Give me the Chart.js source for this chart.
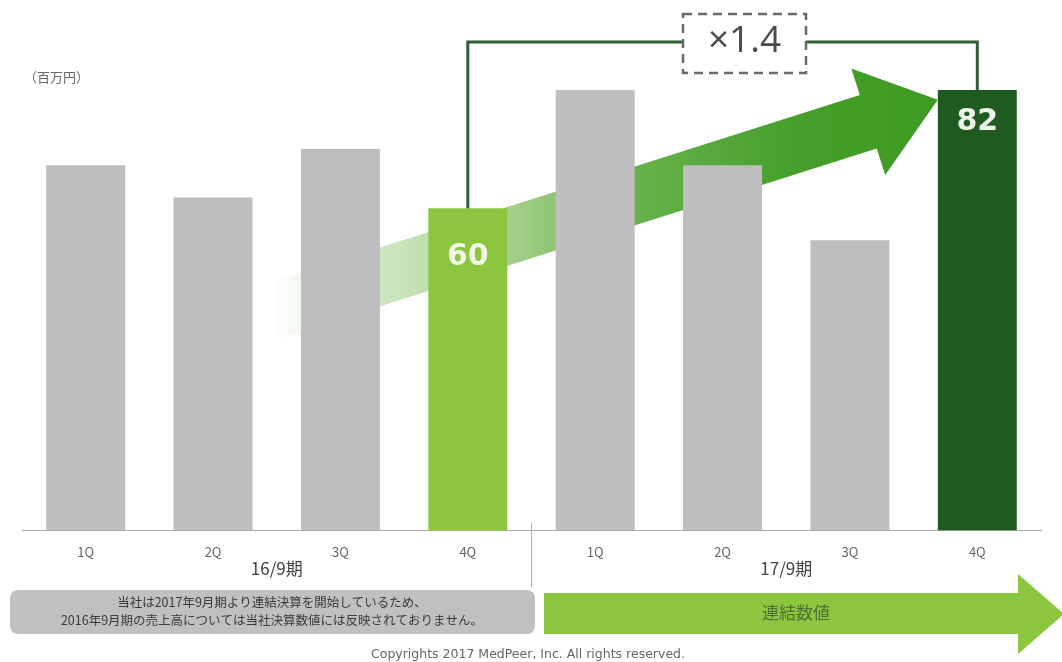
<!DOCTYPE html>
<html>
<head>
<meta charset="utf-8">
<script src="https://cdn.jsdelivr.net/npm/chart.js@4.4.1/dist/chart.umd.min.js"></script>
<style>
  html, body { margin: 0; padding: 0; background: #fff; }
  #wrap { position: relative; width: 1062px; height: 662px; }
</style>
</head>
<body>
<div id="wrap"><canvas id="sales"></canvas></div>
<script>
// quarterly sales (百万円), 16/9期 then 17/9期
const quarters = ["1Q", "2Q", "3Q", "4Q", "1Q", "2Q", "3Q", "4Q"];
const periods = ["16/9期", "17/9期"];
const sales = [68, 62, 71, 60, 82, 68, 54, 82];
const unitLabel = "（百万円）";
const growthLabel = "×1.4";
const noteLines = [
    "当社は2017年9月期より連結決算を開始しているため、",
    "2016年9月期の売上高については当社決算数値には反映されておりません。"
];
const consolidatedLabel = "連結数値";
const copyright = "Copyrights 2017 MedPeer, Inc. All rights reserved.";

const GRAY = "#c0bdc0";
const LIGHT = "#8cc63f";
const DARK = "#1f5b20";
const JP = "'Noto Sans CJK JP', 'Noto Sans', sans-serif";

function barColor(i) {
    if (i === 3) return LIGHT;
    if (i === 7) return DARK;
    return GRAY;
}

// big growth arrow, behind the bars
const growthArrow = {
    id: "growthArrow",
    beforeDatasetsDraw(chart) {
        const ctx = chart.ctx;
        const x = chart.scales.x, y = chart.scales.y;
        const tx = x.getPixelForValue(1.45), ty = y.getPixelForValue(40.7);
        const px = x.getPixelForValue(6.69), py = y.getPixelForValue(80.2);
        const dx = px - tx, dy = py - ty;
        const len = Math.hypot(dx, dy);
        const ux = dx / len, uy = dy / len;
        const nx = -uy, ny = ux;
        const h = 28, w = 56, L = 73;
        const bx = px - ux * L, by = py - uy * L;

        const g = ctx.createLinearGradient(tx, 0, px, 0);
        g.addColorStop(0, "rgba(205,228,190,0)");
        g.addColorStop(0.16, "rgba(200,226,184,0.85)");
        g.addColorStop(0.37, "#a0ce86");
        g.addColorStop(0.55, "#66b24c");
        g.addColorStop(0.78, "#46a02b");
        g.addColorStop(1, "#3d9a22");

        ctx.save();
        ctx.fillStyle = g;
        ctx.beginPath();
        ctx.moveTo(tx + nx * h, ty + ny * h);
        ctx.lineTo(bx + nx * h, by + ny * h);
        ctx.lineTo(bx + nx * w, by + ny * w);
        ctx.lineTo(px, py);
        ctx.lineTo(bx - nx * w, by - ny * w);
        ctx.lineTo(bx - nx * h, by - ny * h);
        ctx.lineTo(tx - nx * h, ty - ny * h);
        ctx.closePath();
        ctx.fill();
        ctx.restore();
    }
};

// values, bracket, growth box and the footer
const decorations = {
    id: "decorations",
    afterDatasetsDraw(chart) {
        const ctx = chart.ctx;
        const x = chart.scales.x;
        const area = chart.chartArea;
        const meta = chart.getDatasetMeta(0);

        ctx.save();

        // highlighted values
        ctx.textAlign = "center";
        ctx.textBaseline = "middle";
        ctx.font = "bold 30px 'DejaVu Sans', sans-serif";
        ctx.fillStyle = "#f2f8e6";
        ctx.fillText(String(sales[3]), meta.data[3].x, meta.data[3].y + 49);
        ctx.fillStyle = "#f0f2ea";
        ctx.fillText(String(sales[7]), meta.data[7].x, meta.data[7].y + 32);

        // bracket between the two 4Q bars
        const lineY = 42;
        const boxL = 683, boxR = 806, boxT = 14, boxB = 73;
        ctx.strokeStyle = "#2f5f34";
        ctx.lineWidth = 3;
        ctx.beginPath();
        ctx.moveTo(meta.data[3].x, meta.data[3].y);
        ctx.lineTo(meta.data[3].x, lineY);
        ctx.lineTo(boxL, lineY);
        ctx.moveTo(boxR, lineY);
        ctx.lineTo(meta.data[7].x, lineY);
        ctx.lineTo(meta.data[7].x, meta.data[7].y);
        ctx.stroke();

        ctx.strokeStyle = "#6a6a6a";
        ctx.lineWidth = 2.5;
        ctx.setLineDash([9, 6]);
        ctx.strokeRect(boxL, boxT, boxR - boxL, boxB - boxT);
        ctx.setLineDash([]);
        ctx.fillStyle = "#4a4a4a";
        ctx.font = "37px 'Open Sans', sans-serif";
        ctx.fillText(growthLabel, (boxL + boxR) / 2, 41);

        // unit
        ctx.textAlign = "left";
        ctx.font = "13px " + JP;
        ctx.fillStyle = "#6a6a6a";
        ctx.fillText(unitLabel, 24, 77);

        // period separator and labels
        const sepX = x.getPixelForValue(3.5);
        ctx.strokeStyle = "#b0b0b0";
        ctx.lineWidth = 1;
        ctx.beginPath();
        ctx.moveTo(sepX, area.bottom - 8);
        ctx.lineTo(sepX, 587);
        ctx.stroke();

        ctx.textAlign = "center";
        ctx.font = "17px " + JP;
        ctx.fillStyle = "#444";
        ctx.fillText(periods[0], x.getPixelForValue(1.5), 569);
        ctx.fillText(periods[1], x.getPixelForValue(5.5), 569);

        // note box under 16/9期
        ctx.fillStyle = "#c2bfc2";
        ctx.beginPath();
        ctx.roundRect(10, 590, 525, 44, 8);
        ctx.fill();
        ctx.fillStyle = "#3a3a3a";
        ctx.font = "12.5px " + JP;
        ctx.fillText(noteLines[0], 272, 602);
        ctx.fillText(noteLines[1], 272, 620);

        // consolidated arrow under 17/9期
        ctx.fillStyle = LIGHT;
        ctx.beginPath();
        ctx.moveTo(544, 593);
        ctx.lineTo(1018, 593);
        ctx.lineTo(1018, 574);
        ctx.lineTo(1064, 614);
        ctx.lineTo(1018, 654);
        ctx.lineTo(1018, 634);
        ctx.lineTo(544, 634);
        ctx.closePath();
        ctx.fill();
        ctx.fillStyle = "#4f7033";
        ctx.font = "17px " + JP;
        ctx.fillText(consolidatedLabel, 796, 613);

        // footer
        ctx.fillStyle = "#666";
        ctx.font = "12.5px 'DejaVu Sans', sans-serif";
        ctx.fillText(copyright, 528, 655);

        ctx.restore();
    }
};

new Chart(document.getElementById("sales"), {
    type: "bar",
    data: {
        labels: quarters,
        datasets: [{
            data: sales,
            backgroundColor: (c) => barColor(c.dataIndex),
            borderWidth: 0,
            categoryPercentage: 1,
            barPercentage: 0.62
        }]
    },
    options: {
        responsive: true,
        maintainAspectRatio: false,
        animation: false,
        layout: { padding: { left: 22, right: 21, top: 47, bottom: 88 } },
        plugins: {
            legend: { display: false },
            tooltip: { enabled: false }
        },
        scales: {
            x: {
                grid: { display: false, drawTicks: false },
                border: { display: true, color: "#aaa", width: 1 },
                ticks: {
                    padding: 14,
                    color: "#666",
                    font: { family: JP, size: 13 }
                }
            },
            y: {
                display: false,
                min: 0,
                max: 90
            }
        }
    },
    plugins: [growthArrow, decorations]
});
</script>
</body>
</html>
